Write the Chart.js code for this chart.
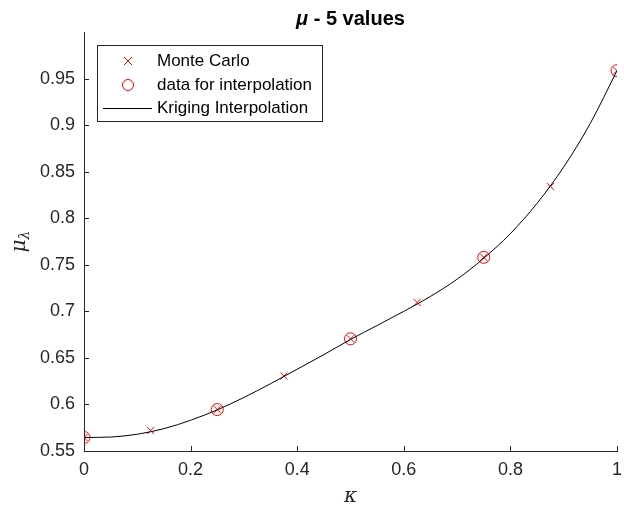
<!DOCTYPE html>
<html><head><meta charset="utf-8">
<script src="https://cdn.jsdelivr.net/npm/chart.js@4/dist/chart.umd.min.js"></script>
<style>html,body{margin:0;padding:0;background:#fff;}#wrap{width:624px;height:515px;}</style>
</head><body><div id="wrap"><canvas id="c" width="624" height="515"></canvas></div>
<script>
const kappaMC = [0, 0.125, 0.25, 0.375, 0.5, 0.625, 0.75, 0.875, 1];
const muMC = [0.5645, 0.572, 0.5945, 0.6305, 0.6705, 0.7095, 0.758, 0.834, 0.9585];
const kappaInterp = [0, 0.25, 0.5, 0.75, 1];
const muInterp = [0.5645, 0.5945, 0.6705, 0.758, 0.9585];
const kappaKrig = [0, 0.05, 0.1, 0.15, 0.2, 0.25, 0.3, 0.35, 0.4, 0.45, 0.5, 0.55, 0.6, 0.65, 0.7, 0.75, 0.8, 0.85, 0.9, 0.95, 1];
const muKrig = [0.5645, 0.5650, 0.5680, 0.5740, 0.5830, 0.5942, 0.6075, 0.6223, 0.6378, 0.6535, 0.6698, 0.6848, 0.7000, 0.7160, 0.7345, 0.7570, 0.7835, 0.8160, 0.8550, 0.9020, 0.9585];
const xTicks = [0, 0.2, 0.4, 0.6, 0.8, 1];
const yTicks = [0.55, 0.6, 0.65, 0.7, 0.75, 0.8, 0.85, 0.9, 0.95];
const legendLabels = ['Monte Carlo', 'data for interpolation', 'Kriging Interpolation'];

const pts = (xs, ys) => xs.map((x, i) => ({x: x, y: ys[i]}));
const AX = '#262626';
const FONT = '"Liberation Sans", Arial, Helvetica, sans-serif';

const decor = {
  id: 'decor',
  afterDatasetsDraw(chart) {
    const ctx = chart.ctx;
    const xs = chart.scales.x, ys = chart.scales.y;
    const ca = chart.chartArea;
    ctx.save();
    ctx.strokeStyle = AX; ctx.lineWidth = 1;
    ctx.beginPath();
    xTicks.forEach(v => { const p = Math.round(xs.getPixelForValue(v)) + 0.5; ctx.moveTo(p, ca.bottom); ctx.lineTo(p, ca.bottom - 5); });
    yTicks.forEach(v => { const p = Math.round(ys.getPixelForValue(v)) + 0.5; ctx.moveTo(ca.left, p); ctx.lineTo(ca.left + 5, p); });
    ctx.stroke();
    const bx = 97.5, by = 45.5, bw = 225, bh = 76;
    ctx.fillStyle = '#fff'; ctx.fillRect(bx, by, bw, bh);
    ctx.strokeStyle = AX; ctx.strokeRect(bx, by, bw, bh);
    const rows = [61, 85, 108];
    ctx.strokeStyle = '#ff0000';
    ctx.beginPath();
    ctx.moveTo(124, rows[0] - 4); ctx.lineTo(132, rows[0] + 4);
    ctx.moveTo(132, rows[0] - 4); ctx.lineTo(124, rows[0] + 4);
    ctx.stroke();
    ctx.beginPath(); ctx.arc(128, rows[1], 5.5, 0, Math.PI * 2); ctx.stroke();
    ctx.strokeStyle = '#000';
    ctx.beginPath(); ctx.moveTo(103, rows[2] + 0.5); ctx.lineTo(152, rows[2] + 0.5); ctx.stroke();
    ctx.fillStyle = '#000';
    ctx.font = '17px ' + FONT;
    ctx.textBaseline = 'middle'; ctx.textAlign = 'left';
    legendLabels.forEach((t, i) => ctx.fillText(t, 157, rows[i]));
    const cx = (ca.left + ca.right) / 2;
    ctx.fillStyle = '#000';
    ctx.font = 'italic bold 20px ' + FONT;
    const t1 = 'μ';
    const t2 = ' - 5 values';
    const w1 = ctx.measureText(t1).width;
    ctx.font = 'bold 20px ' + FONT;
    const w2 = ctx.measureText(t2).width;
    let sx = cx - (w1 + w2) / 2;
    ctx.textBaseline = 'middle';
    ctx.font = 'italic bold 20px ' + FONT;
    ctx.fillText(t1, sx, 19);
    ctx.font = 'bold 20px ' + FONT;
    ctx.fillText(t2, sx + w1, 19);
    ctx.fillStyle = AX;
    ctx.font = 'italic 20px "DejaVu Serif", serif';
    ctx.textAlign = 'center';
    ctx.fillText('κ', cx, 497);
    ctx.save();
    ctx.translate(20, (ca.top + ca.bottom) / 2);
    ctx.rotate(-Math.PI / 2);
    ctx.textAlign = 'left';
    ctx.font = 'italic 20px "DejaVu Serif", serif';
    const mw = ctx.measureText('μ').width;
    ctx.font = 'italic 14px "DejaVu Serif", serif';
    const lw = ctx.measureText('λ').width;
    const st = -(mw + lw) / 2;
    ctx.font = 'italic 20px "DejaVu Serif", serif';
    ctx.fillText('μ', st, 0);
    ctx.font = 'italic 14px "DejaVu Serif", serif';
    ctx.fillText('λ', st + mw, 5);
    ctx.restore();
    ctx.restore();
  }
};

new Chart(document.getElementById('c'), {
  type: 'scatter',
  data: {
    datasets: [
      {label: legendLabels[0], data: pts(kappaMC, muMC), pointStyle: 'crossRot', pointRadius: 5, borderColor: '#ff0000', backgroundColor: '#ff0000', borderWidth: 1, order: 1},
      {label: legendLabels[1], data: pts(kappaInterp, muInterp), pointStyle: 'circle', pointRadius: 6, borderColor: '#ff0000', backgroundColor: 'rgba(0,0,0,0)', borderWidth: 1, order: 2},
      {label: legendLabels[2], data: pts(kappaKrig, muKrig), showLine: true, pointRadius: 0, borderColor: '#000', borderWidth: 1, cubicInterpolationMode: 'monotone', order: 0}
    ]
  },
  options: {
    responsive: false, animation: false, devicePixelRatio: 1,
    layout: {padding: {left: 0, top: 32, right: 3, bottom: 0}},
    plugins: {legend: {display: false}, title: {display: false}, tooltip: {enabled: false}},
    scales: {
      x: {
        type: 'linear', min: 0, max: 1,
        afterBuildTicks: s => { s.ticks = xTicks.map(v => ({value: v})); },
        afterFit: s => { s.height = 64; s.paddingLeft = 0; s.paddingRight = 0; },
        grid: {display: true, drawOnChartArea: false, drawTicks: false},
        border: {display: true, color: AX, width: 1},
        ticks: {color: AX, font: {size: 18, family: FONT}, padding: 8, maxRotation: 0, autoSkip: false, callback: v => String(v)}
      },
      y: {
        type: 'linear', min: 0.55, max: 1.0,
        afterBuildTicks: s => { s.ticks = yTicks.map(v => ({value: v})); },
        afterFit: s => { s.width = 84; s.paddingTop = 0; s.paddingBottom = 0; },
        grid: {display: true, drawOnChartArea: false, drawTicks: false},
        border: {display: true, color: AX, width: 1},
        ticks: {color: AX, font: {size: 18, family: FONT}, padding: 9, autoSkip: false, callback: v => String(Math.round(v * 100) / 100)}
      }
    }
  },
  plugins: [decor]
});
</script></body></html>
